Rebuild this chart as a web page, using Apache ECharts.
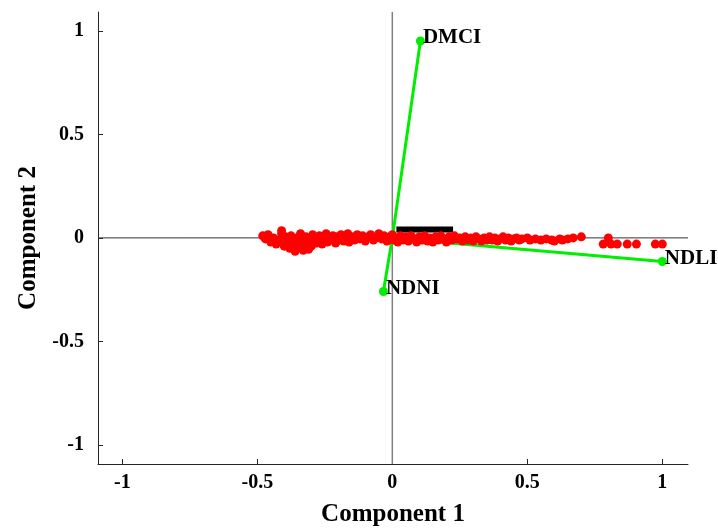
<!DOCTYPE html>
<html><head><meta charset="utf-8">
<script src="https://cdn.jsdelivr.net/npm/echarts@6/dist/echarts.min.js"></script>
<style>html,body{margin:0;padding:0;background:#fff}#c{width:718px;height:528px}</style>
</head><body><div id="c"></div>
<script>
// Variable (loading) vectors
const vectorNames = ['DMCI', 'NDLI', 'NDNI'];
const vectorX = [0.104, 1.0, -0.033];
const vectorY = [0.952, -0.114, -0.259];

// Observation scores
const scoreX = [-0.48,-0.47,-0.46,-0.45,-0.44,-0.43,-0.42,-0.41,-0.41,-0.40,-0.395,-0.39,-0.38,-0.375,-0.37,-0.36,-0.36,-0.355,-0.35,-0.345,-0.34,-0.33,-0.33,-0.325,-0.32,-0.31,-0.31,-0.30,-0.295,-0.29,-0.28,-0.27,-0.265,-0.26,-0.25,-0.245,-0.24,-0.23,-0.22,-0.21,-0.205,-0.2,-0.19,-0.18,-0.17,-0.165,-0.16,-0.15,-0.14,-0.13,-0.12,-0.11,-0.1,-0.09,-0.08,-0.07,-0.06,-0.05,-0.04,-0.03,-0.02,-0.01,0.0,0.005,
0.01,0.02,0.03,0.04,0.05,0.06,0.07,0.08,0.09,0.1,0.11,0.12,0.13,0.14,0.15,0.16,0.17,0.18,0.19,0.2,0.21,0.22,0.23,0.24,0.25,0.26,0.27,0.28,0.29,0.3,0.31,0.32,0.33,0.34,0.35,0.36,0.37,0.38,0.39,0.4,0.41,0.42,0.43,0.44,0.45,0.46,0.47,0.48,0.5,0.51,0.53,0.55,0.57,0.59,0.6,0.62,0.63,0.65,0.67,0.7,
0.781,0.8,0.81,0.833,0.87,0.904,0.974,1.0];
const scoreY = [0.01,-0.005,0.015,-0.02,0.0,-0.03,-0.01,0.02,0.035,-0.04,0.005,-0.025,-0.05,0.01,-0.02,-0.035,-0.065,0.0,-0.015,-0.045,0.02,-0.01,-0.06,-0.03,0.005,-0.02,-0.055,-0.04,0.015,-0.005,-0.025,0.01,-0.015,-0.03,0.0,0.02,-0.02,-0.01,0.01,-0.025,0.005,-0.01,0.015,-0.015,0.0,0.02,-0.02,0.005,-0.01,0.015,-0.005,0.01,-0.015,0.005,0.015,-0.01,0.0,0.02,-0.005,0.01,-0.015,0.005,0.015,-0.01,
0.0,-0.02,0.01,-0.01,0.005,-0.015,0.01,-0.005,-0.02,0.005,-0.01,0.01,-0.015,0.0,-0.02,0.005,-0.01,0.01,-0.005,-0.02,0.005,-0.01,0.01,-0.005,0.0,-0.015,0.005,-0.01,0.0,-0.015,0.005,-0.005,-0.015,0.0,-0.01,0.005,-0.01,0.0,-0.015,-0.005,0.005,-0.01,0.0,-0.015,-0.005,0.0,-0.01,-0.005,0.0,-0.01,-0.005,-0.01,-0.005,-0.01,-0.015,-0.005,-0.01,-0.005,0.0,0.005,
-0.03,0.0,-0.03,-0.03,-0.03,-0.03,-0.03,-0.03];

// Overlapping observation labels near the origin (drawn as a dark smear)
const labelSmearX = [0.015, 0.225];
const labelSmearY = [0.04, 0.04];

const xTicks = [-1, -0.5, 0, 0.5, 1];
const yTicks = [-1, -0.5, 0, 0.5, 1];
const xRange = [-1.09, 1.095];
const yRange = [-1.093, 1.092];

const FONT = '"Liberation Serif", "DejaVu Serif", serif';
const chart = echarts.init(document.getElementById('c'), null, {renderer: 'canvas'});

const vectorSeries = vectorNames.map((n, i) => ({
  type: 'line', z: 3, animation: false, silent: true,
  data: [[0, 0], [vectorX[i], vectorY[i]]],
  lineStyle: {color: '#00ee00', width: 3},
  symbol: 'circle', symbolSize: (v, p) => p.dataIndex === 1 ? 9 : 0,
  itemStyle: {color: '#00ee00'},
  label: {show: true, formatter: p => p.dataIndex === 1 ? n : '', position: 'right', distance: 0, offset: [-2, -3],
    fontFamily: FONT, fontWeight: 'bold', fontSize: 21, color: '#000'}
}));

const fmt = v => xTicks.indexOf(v) < 0 ? '' : String(v);

chart.setOption({
  animation: false,
  grid: {left: 98, right: 30, top: 12, bottom: 64, containLabel: false, outerBoundsMode: 'none'},
  xAxis: {
    type: 'value', min: xRange[0], max: xRange[1],
    name: 'Component 1', nameLocation: 'middle', nameGap: 38,
    nameTextStyle: {fontFamily: FONT, fontWeight: 'bold', fontSize: 25, color: '#000'},
    axisLine: {show: true, onZero: false, lineStyle: {color: '#262626', width: 1}},
    axisTick: {show: true, inside: true, length: 5, lineStyle: {color: '#262626'}, customValues: xTicks},
    axisLabel: {fontFamily: FONT, fontWeight: 'bold', fontSize: 20, color: '#000', margin: 9, customValues: xTicks, formatter: fmt},
    splitLine: {show: false}
  },
  yAxis: {
    type: 'value', min: yRange[0], max: yRange[1],
    name: 'Component 2', nameLocation: 'middle', nameGap: 54,
    nameTextStyle: {fontFamily: FONT, fontWeight: 'bold', fontSize: 25, color: '#000'},
    axisLine: {show: true, onZero: false, lineStyle: {color: '#262626', width: 1}},
    axisTick: {show: true, inside: true, length: 5, lineStyle: {color: '#262626'}, customValues: yTicks},
    axisLabel: {fontFamily: FONT, fontWeight: 'bold', fontSize: 20, color: '#000', margin: 14, customValues: yTicks, formatter: v => yTicks.indexOf(v) < 0 ? '' : String(v)},
    splitLine: {show: false}
  },
  series: [
    {type: 'line', z: 1, silent: true, symbol: 'none', data: [[xRange[0], 0], [xRange[1], 0]], lineStyle: {color: '#333', width: 1}},
    {type: 'line', z: 1, silent: true, symbol: 'none', data: [[0, yRange[0]], [0, yRange[1]]], lineStyle: {color: '#808080', width: 1.5}},
    ...vectorSeries,
    {type: 'line', z: 4, silent: true, symbol: 'none', data: labelSmearX.map((x, i) => [x, labelSmearY[i]]), lineStyle: {color: '#000', width: 6}},
    {type: 'scatter', z: 5, silent: true, symbol: 'circle', symbolSize: 9,
      itemStyle: {color: '#ff0000', opacity: 1},
      data: scoreX.map((x, i) => [x, scoreY[i]])}
  ]
});
</script></body></html>
